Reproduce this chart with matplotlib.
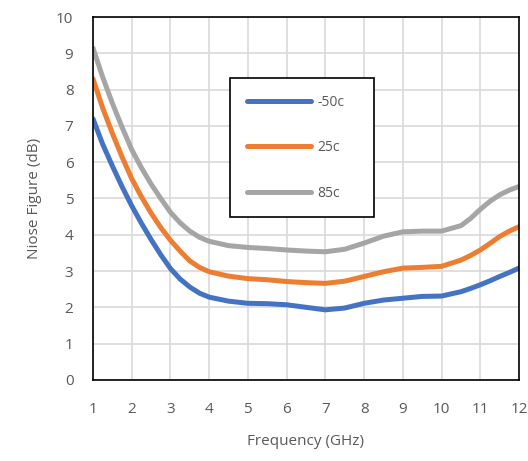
import numpy as np
import matplotlib
matplotlib.use('Agg')
from matplotlib import pyplot as plt

plt.rcParams['font.family'] = ['Open Sans', 'DejaVu Sans']

freq = [1, 1.25, 1.5, 1.75, 2, 2.25, 2.5, 2.75, 3, 3.25, 3.5, 3.75, 4, 4.5, 5, 5.5, 6, 6.5, 7, 7.5,
        8, 8.5, 9, 9.5, 10, 10.5, 10.75, 11, 11.25, 11.5, 11.75, 12]
nf_m50 = [7.2, 6.5, 5.9, 5.33, 4.8, 4.32, 3.87, 3.45, 3.07, 2.78, 2.56, 2.39, 2.28, 2.17, 2.11, 2.1, 2.07, 2.0,
          1.93, 1.98, 2.11, 2.2, 2.25, 2.3, 2.31, 2.43, 2.52, 2.62, 2.73, 2.85, 2.96, 3.08]
nf_25 = [8.3, 7.5, 6.8, 6.15, 5.55, 5.05, 4.6, 4.2, 3.85, 3.55, 3.28, 3.1, 2.98, 2.86, 2.79, 2.76, 2.71, 2.68,
         2.66, 2.72, 2.85, 2.98, 3.08, 3.1, 3.13, 3.3, 3.43, 3.58, 3.76, 3.95, 4.1, 4.22]
nf_85 = [9.15, 8.35, 7.63, 6.97, 6.35, 5.85, 5.4, 5.0, 4.62, 4.33, 4.1, 3.93, 3.82, 3.7, 3.65, 3.62, 3.58, 3.55,
         3.53, 3.6, 3.77, 3.96, 4.08, 4.1, 4.1, 4.25, 4.45, 4.7, 4.92, 5.1, 5.23, 5.33]
labels = ['-50c', '25c', '85c']
colors = ['#4472C4', '#ED7D31', '#A5A5A5']

fig = plt.figure(figsize=(5.28, 4.61), dpi=100)
ax = fig.add_axes([0.176, 0.176, 0.807, 0.787])

for y, lab, c in zip([nf_m50, nf_25, nf_85], labels, colors):
    ax.plot(freq, y, color=c, lw=3.6, label=lab, solid_capstyle='round', solid_joinstyle='round')

ax.set_xlim(1, 12)
ax.set_ylim(0, 10)
ax.set_xticks(range(1, 13))
ax.set_yticks(range(0, 11))
ax.grid(True, color='#d9d9d9', lw=1.2)
ax.set_axisbelow(True)
for s in ax.spines.values():
    s.set_color('black')
    s.set_linewidth(1.2)
ax.tick_params(length=0, colors='#595959', labelsize=11)
ax.tick_params(axis='x', pad=16)
ax.tick_params(axis='y', pad=14)
ax.set_xlabel('Frequency (GHz)', color='#595959', fontsize=11, labelpad=12)
ax.set_ylabel('Niose Figure (dB)', color='#595959', fontsize=11, labelpad=10)

leg = ax.legend(loc='upper left', bbox_to_anchor=(0.322, 0.46, 0.338, 0.372), mode='expand',
                fontsize=10, fancybox=False, edgecolor='black', framealpha=1,
                handlelength=4.6, handletextpad=0.5, labelspacing=2.2,
                borderpad=1.2, borderaxespad=0)
leg.get_frame().set_linewidth(1.2)
for t in leg.get_texts():
    t.set_color('#595959')

fig.savefig('out.png', dpi=100)
